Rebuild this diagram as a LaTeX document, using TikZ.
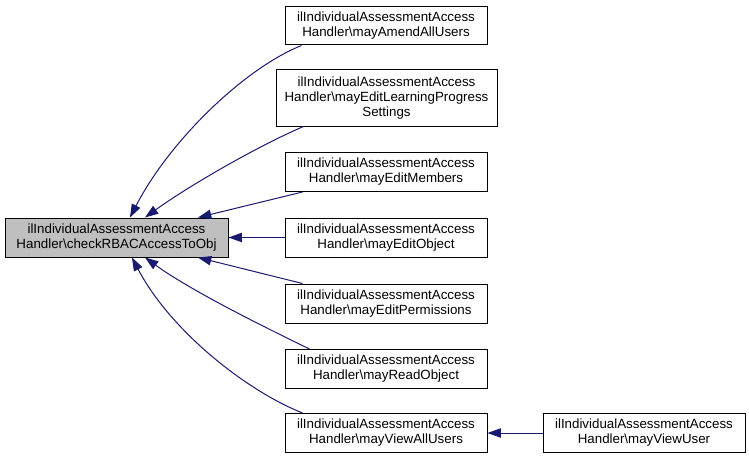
\documentclass[tikz,border=0pt]{standalone}
\usepackage{fontspec}
\setmainfont{Liberation Sans}
\usetikzlibrary{arrows.meta}
\definecolor{edgeblue}{HTML}{191970}
\definecolor{mainfill}{HTML}{BFBFBF}
\begin{document}
\begin{tikzpicture}[x=0.75pt,y=-0.75pt,
  box/.style={draw=black,line width=0.75pt,fill=white,align=center,inner sep=0pt,
    font=\fontsize{10}{11.25}\selectfont,minimum width=151.5pt,minimum height=29.25pt},
  edge/.style={draw=edgeblue,line width=0.75pt,-{Triangle[length=10pt,width=7pt]}}]
\useasboundingbox (0,0) rectangle (749,460);
\node[box,fill=mainfill,minimum width=167.25pt] (main) at (116.5,237.5)
  {ilIndividualAssessmentAccess\\Handler\textbackslash checkRBACAccessToObj};
\node[box,minimum height=28.5pt] (b1) at (386,26)
  {ilIndividualAssessmentAccess\\Handler\textbackslash mayAmendAllUsers};
\node[box,minimum width=165.75pt,minimum height=42pt] (b2) at (386.5,98)
  {ilIndividualAssessmentAccess\\Handler\textbackslash mayEditLearningProgress\\Settings};
\node[box] (b3) at (386,172)
  {ilIndividualAssessmentAccess\\Handler\textbackslash mayEditMembers};
\node[box] (b4) at (386,237.5)
  {ilIndividualAssessmentAccess\\Handler\textbackslash mayEditObject};
\node[box] (b5) at (386,303.5)
  {ilIndividualAssessmentAccess\\Handler\textbackslash mayEditPermissions};
\node[box] (b6) at (386,369)
  {ilIndividualAssessmentAccess\\Handler\textbackslash mayReadObject};
\node[box] (b7) at (386,433)
  {ilIndividualAssessmentAccess\\Handler\textbackslash mayViewAllUsers};
\node[box] (b8) at (644,433)
  {ilIndividualAssessmentAccess\\Handler\textbackslash mayViewUser};
\draw[edge] ([xshift=12.75pt]b1.south west) .. controls (245,68) and (170,140) .. ([xshift=10.1pt]main.north);
\draw[edge] ([xshift=21pt]b2.south west) .. controls (260,145) and (190,185) .. ([xshift=21.4pt]main.north);
\draw[edge] ([xshift=13.5pt]b3.south west) -- ([xshift=61.1pt]main.north);
\draw[edge] (b4.west) -- (main.east);
\draw[edge] ([xshift=13.5pt]b5.north west) -- ([xshift=61.1pt]main.south);
\draw[edge] ([xshift=18.75pt]b6.north west) .. controls (260,325) and (190,290) .. ([xshift=21.4pt]main.south);
\draw[edge] ([xshift=13.5pt]b7.north west) .. controls (245,390) and (170,330) .. ([xshift=11.6pt]main.south);
\draw[edge] (b8.west) -- (b7.east);
\end{tikzpicture}
\end{document}
